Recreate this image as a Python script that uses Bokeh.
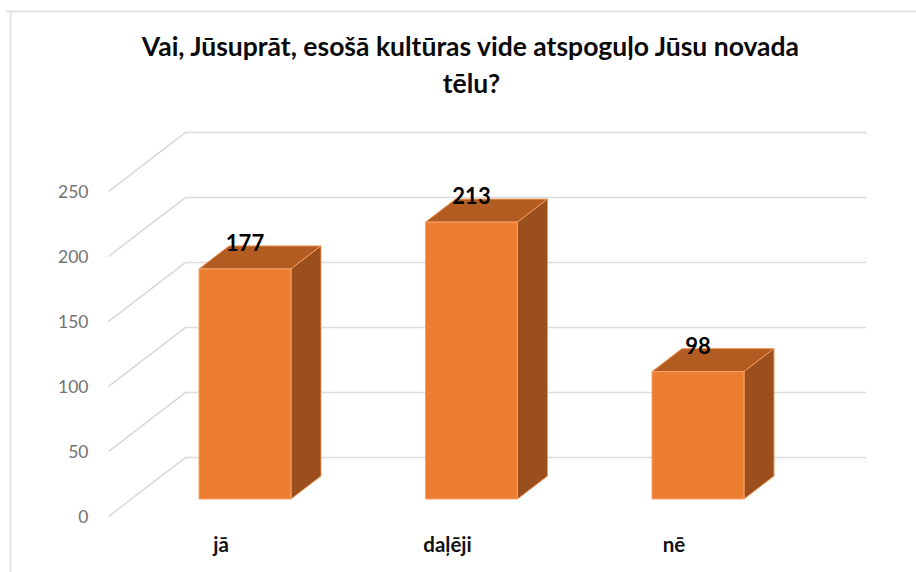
from bokeh.plotting import figure
from bokeh.embed import file_html
from bokeh.resources import INLINE
from bokeh.models import Range1d, LinearAxis, FixedTicker
from bokeh.core.properties import value

title_lines = ["Vai, Jūsuprāt, esošā kultūras vide atspoguļo Jūsu novada", "tēlu?"]
categories = ["jā", "daļēji", "nē"]
values = [177, 213, 98]
ticks = [0, 50, 100, 150, 200, 250]

# scale: one category step = 226.5 px, one value unit = 1.3 px
X_STEP = 226.5
Y_UNIT = 1.3
W, H = 916, 572
OX, OY = 0, 0


def xpx(px):
    return (px - 244.5) / X_STEP


def ypx(px):
    return (498.5 - px) / Y_UNIT


x0, x1 = xpx(OX), xpx(OX + W)
y1, y0 = ypx(OY), ypx(OY + H)

p = figure(width=W, height=H, output_backend="svg", toolbar_location=None,
           x_range=Range1d(x0, x1), y_range=Range1d(y0, y1),
           min_border=0, min_border_left=0, min_border_right=0,
           min_border_top=0, min_border_bottom=0, outline_line_color=None,
           background_fill_color="white", border_fill_color="white",
           x_axis_location=None, y_axis_location=None)
p.grid.visible = False

# picture frame
p.segment(x0=[xpx(10)], y0=[ypx(10)], x1=[xpx(10)], y1=[y0], line_color="#E4E4E4", line_width=2)
p.segment(x0=[xpx(5)], y0=[ypx(11)], x1=[x1], y1=[ypx(11)], line_color="#E4E4E4", line_width=2)

# gridlines: front edge, floor/side wall, back wall
front_off = ypx(516)      # value-space position of front "0"
back_off = ypx(457)       # value-space position of back "0"
gx_front, gx_back, gx_end = xpx(108), xpx(185), xpx(866)
p.multi_line(
    xs=[[gx_front, gx_back, gx_end] for _ in ticks],
    ys=[[t + front_off, t + back_off, t + back_off] for t in ticks],
    line_color="#DCDCDC", line_width=1.6)

# 3D bars
half = 46 / X_STEP
dx = 30 / X_STEP
dy = 23 / Y_UNIT
edge = "#F29A5E"
for i, v in enumerate(values):
    l, r = i - half, i + half
    p.patch([l, r, r + dx, l + dx], [v, v, v + dy, v + dy], fill_color="#B35C22", line_color=edge, line_width=1)
    p.patch([r, r + dx, r + dx, r], [0, dy, v + dy, v], fill_color="#9A4F1C", line_color=edge, line_width=1)
    p.patch([l, r, r, l], [0, 0, v, v], fill_color="#ED7D31", line_color="#F5A26B", line_width=1)

# data labels
p.text(x=list(range(len(values))), y=[v + 25 / Y_UNIT * 0.75 + 6 for v in values],
       text=[str(v) for v in values], text_font=value("Lato"), text_font_style="bold",
       text_font_size="22px", text_color="#000000", text_align="center", text_baseline="middle")

# title
for line, ypos in zip(title_lines, [45, 82]):
    p.text(x=[xpx(471)], y=[ypx(ypos)], text=[line], text_font=value("Lato"),
           text_font_style="bold", text_font_size="26.5px", text_color="#0A0A0A",
           text_align="center", text_baseline="middle")

# y axis aligned to the front edge of the gridlines
p.extra_y_ranges["front"] = Range1d(y0 - front_off, y1 - front_off)
yaxis = LinearAxis(y_range_name="front", ticker=FixedTicker(ticks=ticks), fixed_location=xpx(98),
                   axis_line_color=None, major_tick_line_color=None, minor_tick_line_color=None,
                   major_label_standoff=4, major_label_text_font="Lato",
                   major_label_text_font_size="17.5px", major_label_text_color="#737373")
p.add_layout(yaxis, "left")

# category axis
label_shift = 24 / X_STEP
p.extra_x_ranges["cat"] = Range1d(x0 + label_shift, x1 + label_shift)
xaxis = LinearAxis(x_range_name="cat", ticker=FixedTicker(ticks=list(range(len(categories)))),
                   major_label_overrides={i: c for i, c in enumerate(categories)},
                   fixed_location=ypx(525), axis_line_color=None, major_tick_line_color=None,
                   minor_tick_line_color=None, major_label_standoff=0, major_label_text_font="Lato",
                   major_label_text_font_style="bold", major_label_text_font_size="20.5px",
                   major_label_text_color="#111111")
p.add_layout(xaxis, "below")

open("out.html", "w").write(file_html(p, INLINE))
